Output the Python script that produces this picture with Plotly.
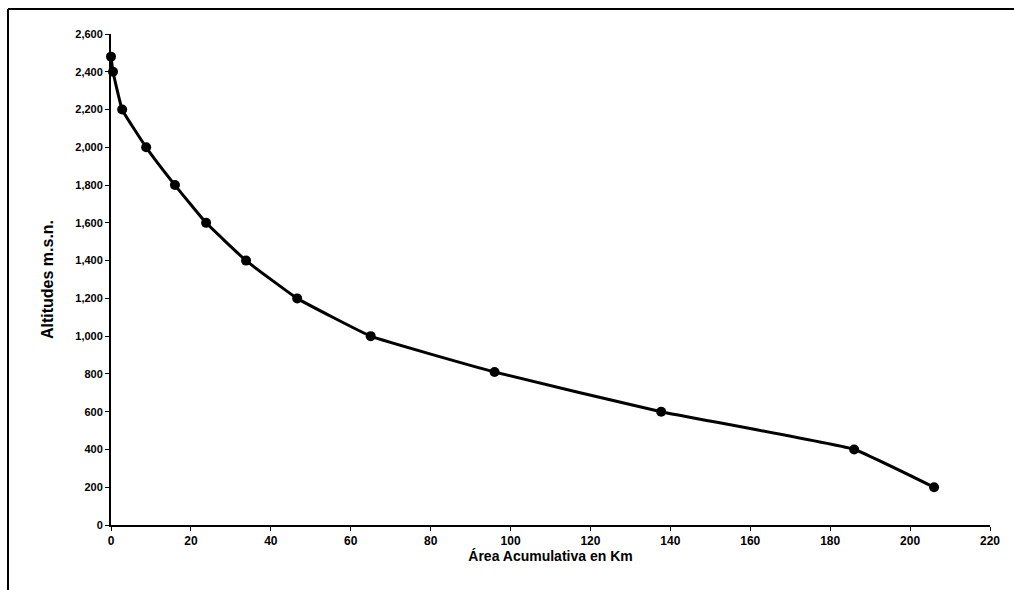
import plotly.graph_objects as go

area_km = [0.0, 0.5, 2.8, 8.8, 16.0, 23.8, 33.8, 46.6, 65.0, 96.0, 137.7, 186.0, 206.0]
altitud = [2480, 2400, 2200, 2000, 1800, 1600, 1400, 1200, 1000, 810, 600, 400, 200]

x_ticks = list(range(0, 221, 20))
y_ticks = list(range(0, 2601, 200))

L, R, T, B = 111, 24, 34, 65
W, H = 1014, 590
pw, ph = W - L - R, H - T - B

fig = go.Figure()
fig.add_trace(go.Scatter(
    x=area_km, y=altitud, mode="lines+markers",
    line=dict(color="black", width=3, shape="spline", smoothing=0.3),
    marker=dict(color="black", size=10),
    cliponaxis=False, showlegend=False,
))

fig.update_layout(
    width=W, height=H,
    margin=dict(l=L, r=R, t=T, b=B),
    paper_bgcolor="white", plot_bgcolor="white",
    xaxis=dict(
        range=[0, 220], tickvals=x_ticks, ticktext=[str(v) for v in x_ticks],
        showgrid=False, zeroline=False, showline=True, linecolor="black", linewidth=2,
        ticks="outside", ticklen=4, tickwidth=1, tickcolor="black",
        tickfont=dict(family="Liberation Sans, Arial", size=12, color="black", weight="bold"),
        title=dict(text="<b>Área Acumulativa en Km</b>",
                   font=dict(family="Liberation Sans, Arial", size=14, color="black"),
                   standoff=0),
    ),
    yaxis=dict(
        range=[0, 2600], tickvals=y_ticks, tickformat=",",
        showgrid=False, zeroline=False, showline=True, linecolor="black", linewidth=2,
        ticks="outside", ticklen=4, tickwidth=1, tickcolor="black",
        tickfont=dict(family="Liberation Sans, Arial", size=11, color="black", weight="bold"),
        title=dict(text="<b>Altitudes m.s.n.</b>",
                   font=dict(family="Liberation Sans Narrow, Arial Narrow, Liberation Sans", size=16, color="black"),
                   standoff=18),
    ),
)

# outer frame lines (top and left), as in the scanned original
fx0 = (8 - L) / pw
fy_top = 1 + (T - 9) / ph
fy_bot = -(H - T - ph) / ph - 0.05
fig.add_shape(type="line", xref="paper", yref="paper", x0=fx0, x1=1 + R / pw,
              y0=fy_top, y1=fy_top, line=dict(color="black", width=2))
fig.add_shape(type="line", xref="paper", yref="paper", x0=fx0, x1=fx0,
              y0=fy_top, y1=fy_bot, line=dict(color="black", width=2))

fig.write_html("out.html")
